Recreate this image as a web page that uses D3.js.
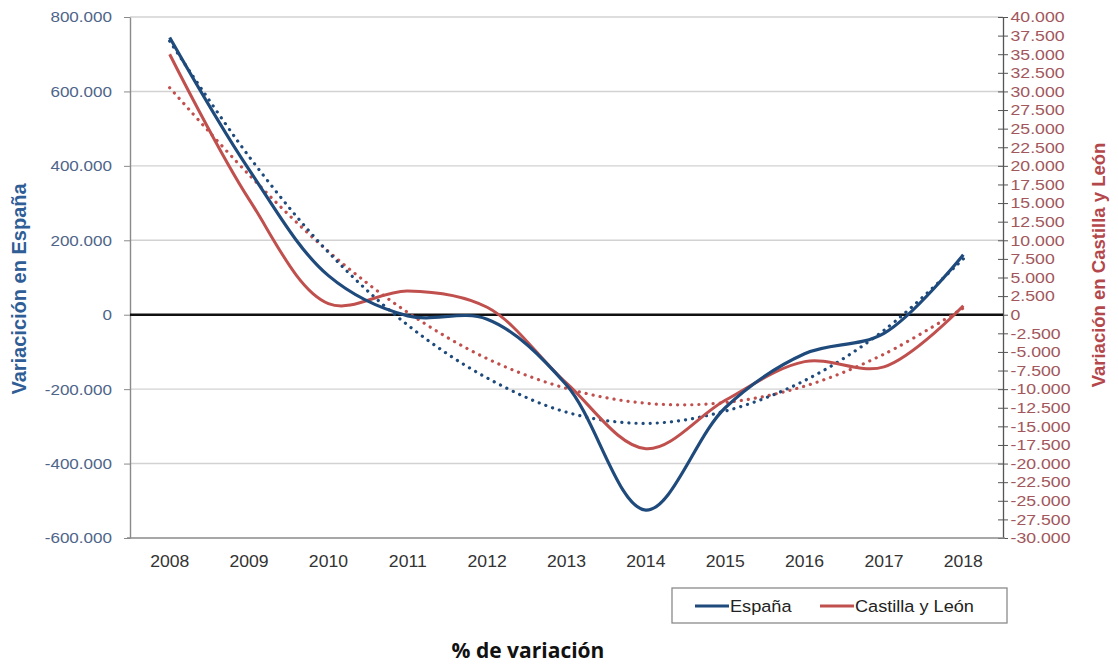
<!DOCTYPE html>
<html lang="es">
<head>
<meta charset="UTF-8">
<title>Variación</title>
<script src="https://d3js.org/d3.v7.min.js"></script>
<style>
    html, body { margin:0; padding:0; background:#fff; }
    svg text { font-family: "Liberation Sans", Arial, sans-serif; }
</style>
</head>
<body>
<div id="chart"></div>
<script>
    // datos
    var years = ["2008","2009","2010","2011","2012","2013","2014","2015","2016","2017","2018"];
    var espana = [745000, 390000, 105000, -3000, -12000, -189000, -525000, -250000, -105000, -50000, 161000];
    var castilla = [35000, 15500, 1500, 3200, 1000, -9200, -18000, -11500, -6300, -7000, 1200];
    // lineas de tendencia (punteadas)
    var espanaTrend = [735000, 425000, 168000, -28000, -170000, -262000, -292000, -259000, -177000, -42000, 150000];
    var castillaTrend = [30500, 18800, 8500, 300, -5900, -9900, -11900, -11800, -9600, -5300, 900];
    var leftTicks = d3.range(-600000, 800001, 200000);
    var rightTicks = d3.range(-30000, 40001, 2500);

    var W = 1118, H = 665;
    var plot = {left: 130, right: 1003, top: 17, bottom: 538};
    var blue = "#1f4a7c", red = "#c0504d";
    var sx = 1.1; // el original esta algo estirado en horizontal

    var es = d3.formatLocale({decimal: ",", thousands: ".", grouping: [3], currency: ["", "€"], minus: "-"});
    var fmt = es.format(",");

    var svg = d3.select("#chart").append("svg")
        .attr("width", W)
        .attr("height", H);

    var x = d3.scalePoint()
        .domain(years)
        .range([plot.left, plot.right])
        .padding(0.5);

    var yL = d3.scaleLinear().domain([-600000, 800000]).range([plot.bottom, plot.top]);
    var yR = d3.scaleLinear().domain([-30000, 40000]).range([plot.bottom, plot.top]);

    // rejilla
    svg.append("g")
        .selectAll("line")
        .data(leftTicks.filter(function(d){ return d !== 0 && d !== -600000; }))
        .enter().append("line")
        .attr("x1", plot.left).attr("x2", plot.right)
        .attr("y1", function(d){ return yL(d); })
        .attr("y2", function(d){ return yL(d); })
        .attr("stroke", "#d2d2d2")
        .attr("stroke-width", 1.4);

    // eje izquierdo
    var gL = svg.append("g")
        .attr("transform", "translate(" + plot.left + ",0)")
        .call(d3.axisLeft(yL).tickValues(leftTicks).tickFormat(fmt).tickSize(6).tickSizeOuter(0).tickPadding(12));
    gL.select(".domain").attr("stroke", "#8a8a8a").attr("stroke-width", 1.4);
    gL.selectAll(".tick line").attr("stroke", "#8a8a8a");
    gL.selectAll(".tick text")
        .attr("fill", "#4e6589")
        .attr("font-size", 15.5)
        .attr("font-family", "Liberation Sans, Arial, sans-serif")
        .attr("x", -18 / sx)
        .attr("transform", "scale(" + sx + ",1)");

    // eje derecho
    var gR = svg.append("g")
        .attr("transform", "translate(" + plot.right + ",0)")
        .call(d3.axisRight(yR).tickValues(rightTicks).tickFormat(fmt).tickSize(5).tickSizeOuter(0).tickPadding(6));
    gR.select(".domain").attr("stroke", "#555").attr("stroke-width", 1.3);
    gR.selectAll(".tick line").attr("stroke", "#555").attr("x1", -5);
    gR.selectAll(".tick text")
        .attr("fill", "#a2575c")
        .attr("font-size", 15)
        .attr("font-family", "Liberation Sans, Arial, sans-serif")
        .attr("x", 7 / sx)
        .attr("transform", "scale(" + (sx + 0.08) + ",1)");

    // eje inferior
    var gB = svg.append("g")
        .attr("transform", "translate(0," + plot.bottom + ")")
        .call(d3.axisBottom(x).tickSize(0).tickPadding(18));
    gB.select(".domain").attr("stroke", "#8a8a8a").attr("stroke-width", 1.4)
        .attr("d", "M" + (plot.left - 3) + ",0H" + (plot.right + 2));
    gB.selectAll(".tick text")
        .attr("fill", "#333")
        .attr("font-size", 16)
        .attr("font-family", "Liberation Sans, Arial, sans-serif")
        .attr("transform", "scale(" + sx + ",1)")
        .each(function(d){ d3.select(this.parentNode).attr("transform", "translate(" + x(d) + ",0)"); });

    // linea de cero
    svg.append("line")
        .attr("x1", plot.left).attr("x2", plot.right)
        .attr("y1", yL(0)).attr("y2", yL(0))
        .attr("stroke", "#111")
        .attr("stroke-width", 2.6);

    var lineL = d3.line()
        .x(function(d, i){ return x(years[i]); })
        .y(function(d){ return yL(d); })
        .curve(d3.curveCatmullRom.alpha(0.5));
    var lineR = d3.line()
        .x(function(d, i){ return x(years[i]); })
        .y(function(d){ return yR(d); })
        .curve(d3.curveCatmullRom.alpha(0.5));

    // tendencias
    svg.append("path")
        .datum(castillaTrend)
        .attr("d", lineR)
        .attr("fill", "none")
        .attr("stroke", red)
        .attr("stroke-width", 3.2)
        .attr("stroke-linecap", "round")
        .attr("stroke-dasharray", "0.1 7");
    svg.append("path")
        .datum(espanaTrend)
        .attr("d", lineL)
        .attr("fill", "none")
        .attr("stroke", blue)
        .attr("stroke-width", 3.2)
        .attr("stroke-linecap", "round")
        .attr("stroke-dasharray", "0.1 7");

    // series
    svg.append("path")
        .datum(castilla)
        .attr("d", lineR)
        .attr("fill", "none")
        .attr("stroke", red)
        .attr("stroke-width", 3);
    svg.append("path")
        .datum(espana)
        .attr("d", lineL)
        .attr("fill", "none")
        .attr("stroke", blue)
        .attr("stroke-width", 3.2);

    // titulos de ejes
    svg.append("text")
        .attr("transform", "translate(26,289) rotate(-90)")
        .attr("text-anchor", "middle")
        .attr("font-size", 20)
        .attr("font-weight", "bold")
        .attr("fill", "#2f5d96")
        .text("Variacición en España");

    svg.append("text")
        .attr("transform", "translate(1105,265) rotate(-90)")
        .attr("text-anchor", "middle")
        .attr("font-size", 18.5)
        .attr("font-weight", "bold")
        .attr("fill", "#b4474c")
        .text("Variación en Castilla y León");

    // leyenda
    var leg = svg.append("g");
    leg.append("rect")
        .attr("x", 672).attr("y", 588)
        .attr("width", 335).attr("height", 35)
        .attr("fill", "#fff")
        .attr("stroke", "#8a8a8a")
        .attr("stroke-width", 1.3);
    var items = [
        {name: "España", color: blue, x: 695},
        {name: "Castilla y León", color: red, x: 820}
    ];
    items.forEach(function(it){
        leg.append("line")
            .attr("x1", it.x).attr("x2", it.x + 34)
            .attr("y1", 606).attr("y2", 606)
            .attr("stroke", it.color)
            .attr("stroke-width", 3);
        leg.append("text")
            .attr("x", (it.x + 35) / sx)
            .attr("y", 612)
            .attr("transform", "scale(" + sx + ",1)")
            .attr("font-size", 16.5)
            .attr("fill", "#222")
            .text(it.name);
    });

    // titulo inferior
    svg.append("text")
        .attr("x", 528)
        .attr("y", 658)
        .attr("text-anchor", "middle")
        .attr("font-size", 21)
        .attr("font-weight", "bold")
        .style("font-family", "'Open Sans', 'Noto Sans', sans-serif")
        .attr("fill", "#111")
        .text("% de variación");
</script>
</body>
</html>
